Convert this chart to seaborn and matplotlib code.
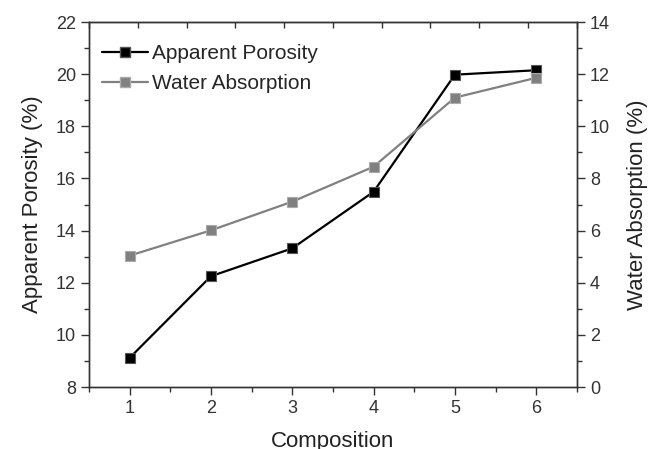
import numpy as np
import pandas as pd
import matplotlib
matplotlib.use("Agg")
import matplotlib.pyplot as plt
from matplotlib.lines import Line2D
from matplotlib.ticker import MultipleLocator
import seaborn as sns

# datos
composicion = [1, 2, 3, 4, 5, 6]
porosidad = [9.12, 12.25, 13.32, 15.49, 19.98, 20.15]
absorcion = [5.04, 6.01, 7.11, 8.45, 11.10, 11.86]

sns.set_style("ticks")
plt.rcParams['font.family'] = ['Liberation Sans', 'DejaVu Sans']

df = pd.DataFrame({"Composition": composicion,
                   "Apparent Porosity": porosidad,
                   "Water Absorption": absorcion})

fig = plt.figure(figsize=(6.57, 4.49), dpi=100)
ax = fig.add_axes([0.1355, 0.138, 0.7425, 0.813])
ax2 = ax.twinx()

negro = "#000000"
gris = "#808080"

sns.lineplot(data=df, x="Composition", y="Apparent Porosity", ax=ax, color=negro,
             marker="s", markersize=7.5, markeredgecolor="#555555", markeredgewidth=0.8,
             linewidth=1.6, zorder=3)
sns.lineplot(data=df, x="Composition", y="Water Absorption", ax=ax2, color=gris,
             marker="s", markersize=7.5, markeredgecolor="#aaaaaa", markeredgewidth=0.8,
             linewidth=1.6, zorder=2)

ax.set_xlim(0.5, 6.5)
ax.set_ylim(8, 22)
ax2.set_ylim(0, 14)

ax.xaxis.set_major_locator(MultipleLocator(1))
ax.xaxis.set_minor_locator(MultipleLocator(0.5))
ax.yaxis.set_major_locator(MultipleLocator(2))
ax.yaxis.set_minor_locator(MultipleLocator(1))
ax2.yaxis.set_major_locator(MultipleLocator(2))
ax2.yaxis.set_minor_locator(MultipleLocator(1))

col_eje = "#333333"
for a in (ax, ax2):
    for s in a.spines.values():
        s.set_visible(True)
        s.set_color(col_eje)
        s.set_linewidth(1.0)
    a.tick_params(which="major", length=6, width=1, color=col_eje,
                  labelsize=13, labelcolor=col_eje, direction="out")
    a.tick_params(which="minor", length=3.5, width=1, color=col_eje, direction="out")

ax.tick_params(axis="x", which="both", top=False)
ax2.tick_params(axis="y", which="both", left=False, right=True)

# marcas superiores hacia adentro
arriba = ax.secondary_xaxis("top")
arriba.set_xticks(np.linspace(0.5, 6.5, 11))
arriba.set_xticklabels([])
arriba.tick_params(direction="in", length=4, width=1, color=col_eje)

ax.set_xlabel("Composition", fontsize=16, color="#222222", labelpad=10)
ax.set_ylabel("Apparent Porosity (%)", fontsize=16, color="#222222", labelpad=9)
ax2.set_ylabel("Water Absorption (%)", fontsize=16, color="#222222", labelpad=12)

manejadores = [
    Line2D([], [], color=negro, marker="s", markersize=7.5, markeredgecolor="#555555",
           linewidth=1.6),
    Line2D([], [], color=gris, marker="s", markersize=7.5, markeredgecolor="#aaaaaa",
           linewidth=1.6),
]
ax.legend(manejadores, ["Apparent Porosity", "Water Absorption"], loc="upper left",
          frameon=False, fontsize=15, handlelength=2.2, handletextpad=0.2,
          labelspacing=0.55, borderaxespad=0, borderpad=0, bbox_to_anchor=(0.027, 0.94))

fig.savefig("out.png", dpi=100)
